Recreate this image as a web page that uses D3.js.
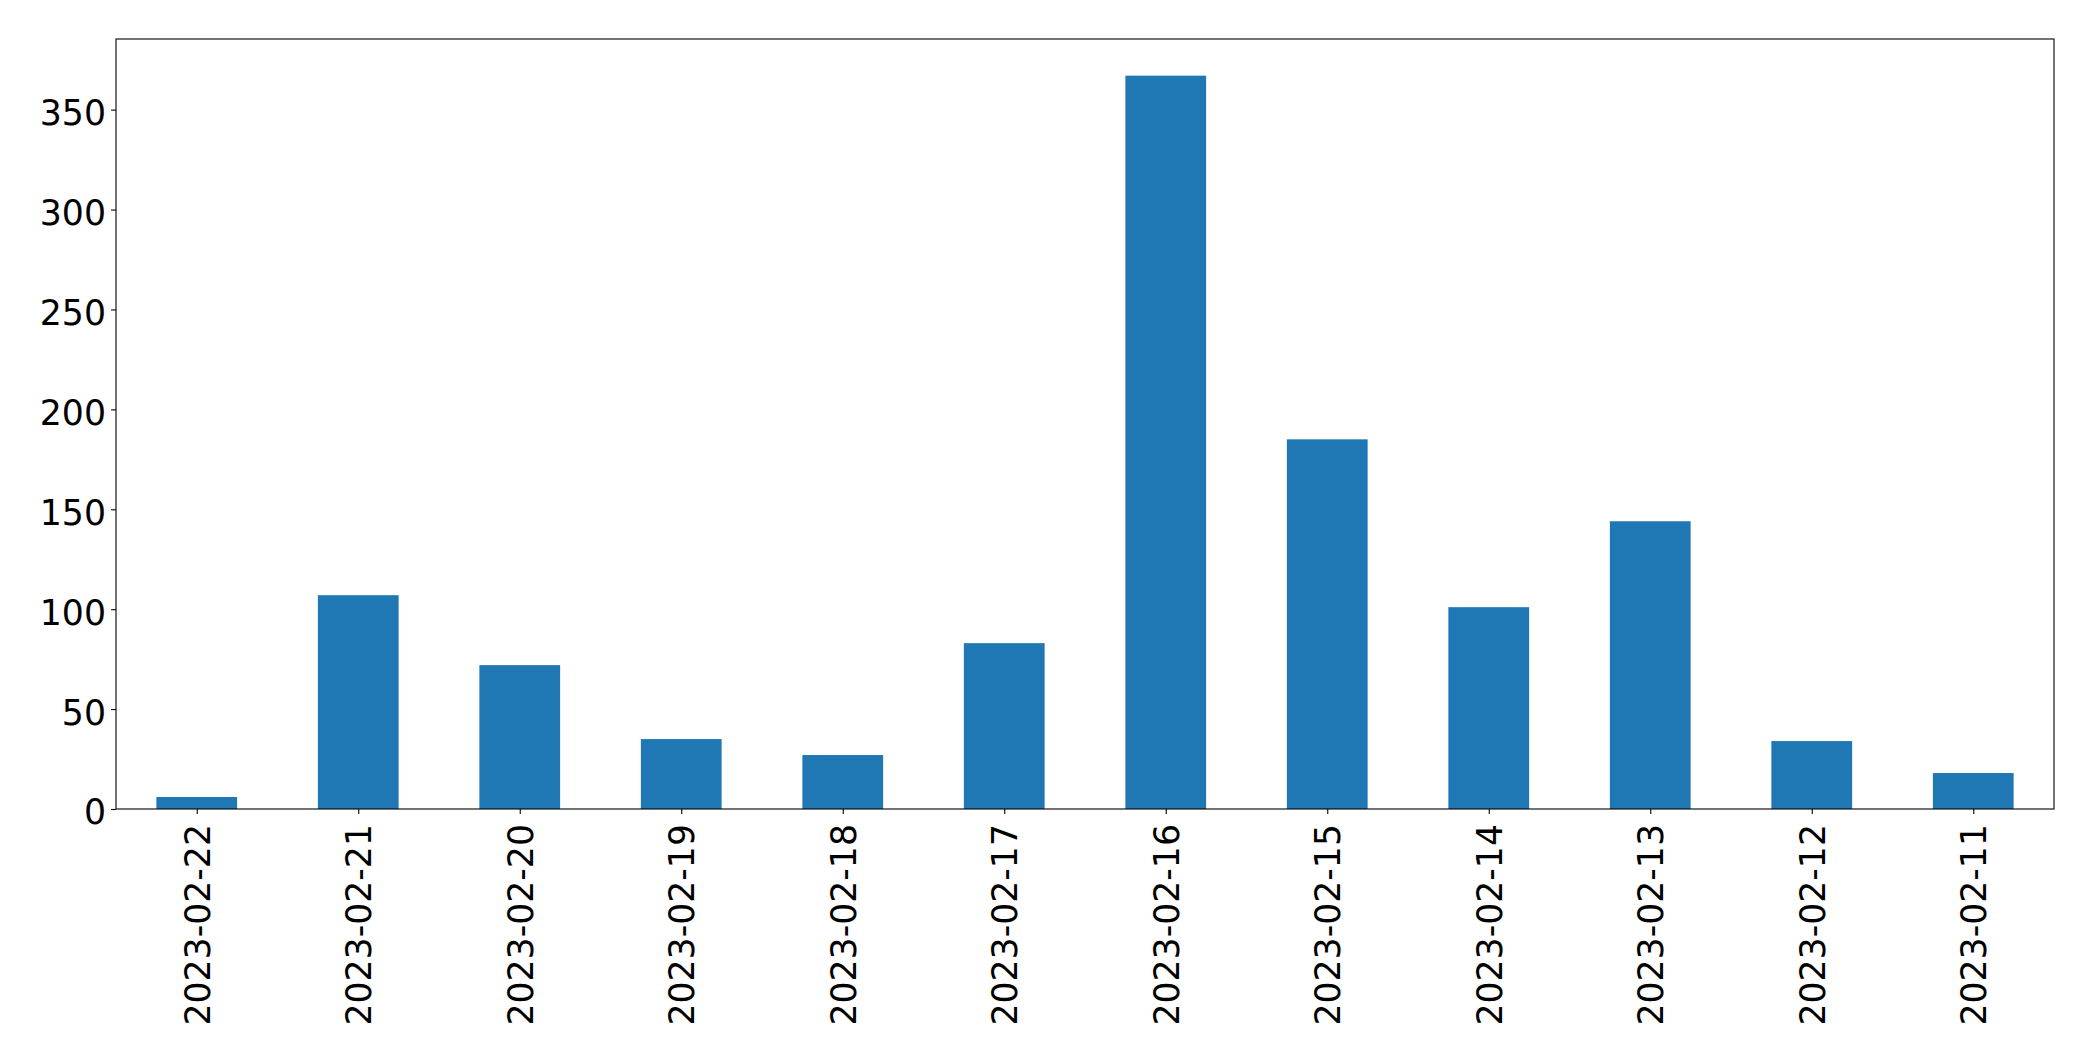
<!DOCTYPE html>
<html>
<head>
<meta charset="utf-8">
<script src="https://cdn.jsdelivr.net/npm/d3@7"></script>
<style>
  html, body { margin: 0; padding: 0; background: #fff; }
  svg { display: block; }
  text { font-family: "DejaVu Sans", sans-serif; fill: #000; }
</style>
</head>
<body>
<svg id="chart" width="2093" height="1061"></svg>
<script>
const categories = ["2023-02-22","2023-02-21","2023-02-20","2023-02-19","2023-02-18","2023-02-17","2023-02-16","2023-02-15","2023-02-14","2023-02-13","2023-02-12","2023-02-11"];
const values = [6, 107, 72, 35, 27, 83, 367, 185, 101, 144, 34, 18];
const yTicks = [0, 50, 100, 150, 200, 250, 300, 350];

const plotLeft = 116, plotRight = 2054, plotTop = 39, plotBottom = 809;
const fontSize = 34.7;
const svg = d3.select("#chart");

const n = categories.length;
const x = d3.scaleLinear().domain([-0.5, n - 0.5]).range([plotLeft, plotRight]);
const y = d3.scaleLinear().domain([0, d3.max(values) * 1.05]).range([plotBottom, plotTop]);
const barW = x(0.25) - x(-0.25);

svg.append("g").selectAll("rect").data(values).join("rect")
  .attr("x", (d, i) => x(i) - barW / 2)
  .attr("width", barW)
  .attr("y", d => y(d))
  .attr("height", d => y(0) - y(d))
  .attr("fill", "#1f77b4");

// y axis
const yAxis = d3.axisLeft(y).tickValues(yTicks).tickSize(4.9).tickPadding(4.9).tickFormat(d3.format("d"));
const gy = svg.append("g").attr("transform", `translate(${plotLeft},0)`).call(yAxis);
gy.select(".domain").remove();
gy.selectAll(".tick line").attr("stroke", "#000").attr("stroke-width", 1.1);
gy.selectAll(".tick text")
  .attr("font-size", fontSize)
  .attr("font-family", "DejaVu Sans")
  .attr("fill", "#000")
  .attr("x", -10)
  .attr("dy", "0.43em");

// x axis
const xAxis = d3.axisBottom(x).tickValues(d3.range(n)).tickSize(4.9).tickFormat(i => categories[i]);
const gx = svg.append("g").attr("transform", `translate(0,${plotBottom})`).call(xAxis);
gx.select(".domain").remove();
gx.selectAll(".tick line").attr("stroke", "#000").attr("stroke-width", 1.1);
gx.selectAll(".tick text")
  .attr("font-size", fontSize)
  .attr("font-family", "DejaVu Sans")
  .attr("fill", "#000")
  .attr("text-anchor", "end")
  .attr("transform", "rotate(-90)")
  .attr("x", -15)
  .attr("y", 0)
  .attr("dy", "0.3645em");

// frame
svg.append("rect")
  .attr("x", plotLeft).attr("y", plotTop)
  .attr("width", plotRight - plotLeft).attr("height", plotBottom - plotTop)
  .attr("fill", "none").attr("stroke", "#000").attr("stroke-width", 1.1);
</script>
</body>
</html>
